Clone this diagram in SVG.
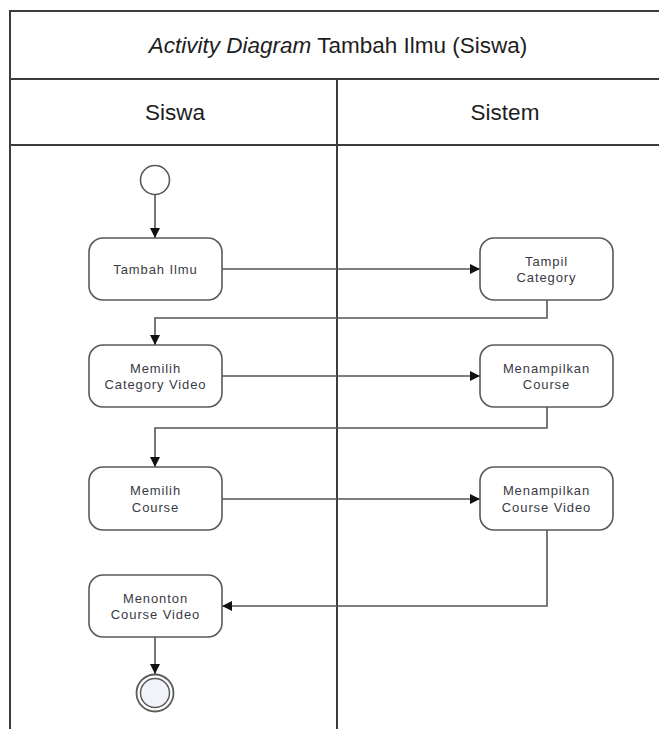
<svg xmlns="http://www.w3.org/2000/svg" width="659" height="729" viewBox="0 0 659 729">
  <style>
    .frame { stroke: #3c3c3c; stroke-width: 2; fill: none; }
    .hdr { font-family: "Liberation Sans", Arial, sans-serif; font-size: 22.5px; fill: #1e1e1e; text-anchor: middle; }
    .act rect { fill: #ffffff; stroke: #595959; stroke-width: 1.6; }
    .act text { font-family: "Liberation Sans", Arial, sans-serif; font-size: 13px; letter-spacing: 0.9px; fill: #3a3a44; text-anchor: middle; }
    .flow { stroke: #555555; stroke-width: 1.6; fill: none; marker-end: url(#arrow); }
  </style>
  <defs>
    <marker id="arrow" viewBox="0 0 10 10" refX="10" refY="5" markerWidth="10" markerHeight="10" markerUnits="userSpaceOnUse" orient="auto">
      <path d="M0,0 L10,5 L0,10 Z" fill="#111111"/>
    </marker>
  </defs>
  <rect width="659" height="729" fill="#ffffff"/>

  <!-- swimlane frame -->
  <g id="frame">
    <line class="frame" x1="10" y1="11" x2="659" y2="11"/>
    <line class="frame" x1="10" y1="10" x2="10" y2="729"/>
    <line class="frame" x1="10" y1="79" x2="659" y2="79"/>
    <line class="frame" x1="10" y1="145" x2="659" y2="145"/>
    <line class="frame" x1="337" y1="79" x2="337" y2="729"/>
    <text class="hdr" x="338" y="53"><tspan font-style="italic">Activity Diagram</tspan> Tambah Ilmu (Siswa)</text>
    <text class="hdr" x="175" y="120">Siswa</text>
    <text class="hdr" x="505" y="120">Sistem</text>
  </g>

  <!-- connectors -->
  <g id="connectors">
    <line class="flow" x1="155" y1="195" x2="155" y2="238"/>
    <line class="flow" x1="222" y1="269" x2="480" y2="269"/>
    <polyline class="flow" points="547,300 547,318 155,318 155,345"/>
    <line class="flow" x1="222" y1="376" x2="480" y2="376"/>
    <polyline class="flow" points="547,407 547,428 155,428 155,467"/>
    <line class="flow" x1="222" y1="499" x2="480" y2="499"/>
    <polyline class="flow" points="547,530 547,606 222,606"/>
    <line class="flow" x1="155" y1="637" x2="155" y2="674"/>
  </g>

  <!-- start -->
  <g id="start">
    <circle cx="155" cy="180" r="14.5" fill="#ffffff" stroke="#595959" stroke-width="1.6"/>
  </g>

  <g id="tambah-ilmu" class="act">
    <rect x="89" y="238" width="133" height="62" rx="14"/>
    <text x="155.5" y="273.5">Tambah Ilmu</text>
  </g>
  <g id="tampil-category" class="act">
    <rect x="480" y="238" width="133" height="62" rx="14"/>
    <text x="546.5" y="265.5">Tampil</text>
    <text x="546.5" y="282">Category</text>
  </g>

  <g id="memilih-category-video" class="act">
    <rect x="89" y="345" width="133" height="62" rx="14"/>
    <text x="155.5" y="372.5">Memilih</text>
    <text x="155.5" y="389">Category Video</text>
  </g>
  <g id="menampilkan-course" class="act">
    <rect x="480" y="345" width="133" height="62" rx="14"/>
    <text x="546.5" y="372.5">Menampilkan</text>
    <text x="546.5" y="389">Course</text>
  </g>

  <g id="memilih-course" class="act">
    <rect x="89" y="467" width="133" height="63" rx="14"/>
    <text x="155.5" y="495">Memilih</text>
    <text x="155.5" y="511.5">Course</text>
  </g>
  <g id="menampilkan-course-video" class="act">
    <rect x="480" y="467" width="133" height="63" rx="14"/>
    <text x="546.5" y="495">Menampilkan</text>
    <text x="546.5" y="511.5">Course Video</text>
  </g>

  <g id="menonton-course-video" class="act">
    <rect x="89" y="575" width="133" height="62" rx="14"/>
    <text x="155.5" y="602.5">Menonton</text>
    <text x="155.5" y="619">Course Video</text>
  </g>

  <!-- end -->
  <g id="end">
    <circle cx="155" cy="693" r="18.5" fill="#ffffff" stroke="#5a5a5a" stroke-width="1.8"/>
    <circle cx="155" cy="693" r="14.5" fill="#f1f3fa" stroke="#5a5a5a" stroke-width="1.5"/>
  </g>
</svg>
